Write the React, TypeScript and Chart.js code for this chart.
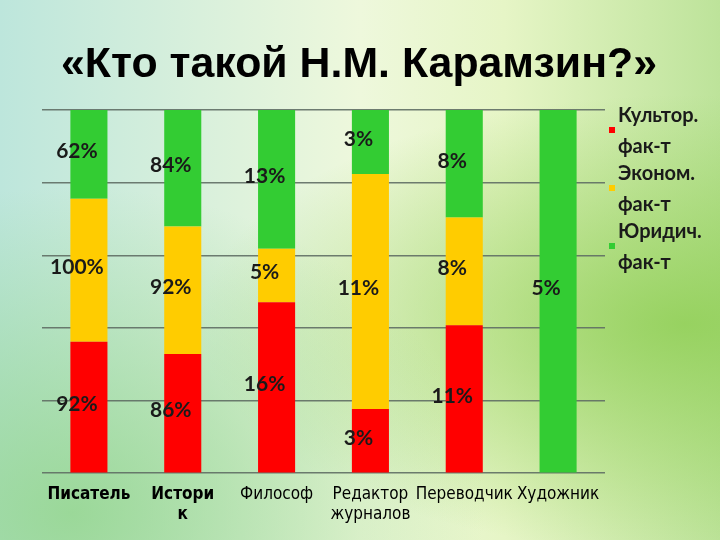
import React, { useEffect, useRef } from "react";
import { Chart, registerables } from "chart.js";

Chart.register(...registerables);

const titleText = "«Кто такой Н.М. Карамзин?»";
const categories = [["Писатель"], ["Истори", "к"], ["Философ"], ["Редактор", "журналов"], ["Переводчик"], ["Художник"]];
const boldCategories = [true, true, false, false, false, false];
const seriesNames = [["Культор.", "фак-т"], ["Эконом.", "фак-т"], ["Юридич.", "фак-т"]];
const cultural = [92, 86, 16, 3, 11, 0];
const economic = [100, 92, 5, 11, 8, 0];
const legal = [62, 84, 13, 3, 8, 5];
const seriesColors = ["#ff0000", "#ffcc00", "#33cc33"];
const yMax = 100;
const yStep = 20;

const seriesValues = [cultural, economic, legal];
const totals = categories.map((_, i) => seriesValues.reduce((s, arr) => s + arr[i], 0));
const toPercent = (arr: number[]) => arr.map((v, i) => (totals[i] ? (v / totals[i]) * 100 : 0));

const titlePlugin = {
  id: "slideTitle",
  afterDraw(chart: any) {
    const ctx = chart.ctx;
    ctx.save();
    ctx.font = "bold 42px 'Liberation Sans', Arial, sans-serif";
    ctx.fillStyle = "#000000";
    ctx.textBaseline = "alphabetic";
    ctx.textAlign = "center";
    const natural = ctx.measureText(titleText).width;
    const target = 596;
    const sx = target / natural;
    ctx.translate(chart.width / 2 - 1, 77);
    ctx.scale(sx, 1);
    ctx.fillText(titleText, 0, 0);
    ctx.restore();
  },
};

const dataLabelPlugin = {
  id: "dataLabels",
  afterDatasetsDraw(chart: any) {
    const ctx = chart.ctx;
    ctx.save();
    ctx.font = "bold 21px Lato, 'Open Sans', sans-serif";
    ctx.fillStyle = "#1a1a1a";
    ctx.textAlign = "center";
    ctx.textBaseline = "middle";
    chart.data.datasets.forEach((ds: any, di: number) => {
      const meta = chart.getDatasetMeta(di);
      meta.data.forEach((el: any, i: number) => {
        const raw = ds.rawValues[i];
        if (!raw) return;
        const y = (el.y + el.base) / 2 - 3;
        ctx.fillText(raw + "%", el.x - 12, y);
      });
    });
    ctx.restore();
  },
};

const legendPlugin = {
  id: "sideLegend",
  afterDraw(chart: any) {
    const ctx = chart.ctx;
    const area = chart.chartArea;
    ctx.save();
    ctx.font = "bold 20px Lato, 'Open Sans', sans-serif";
    ctx.textBaseline = "alphabetic";
    ctx.textAlign = "left";
    chart.data.datasets.forEach((ds: any, di: number) => {
      const baseY = area.top + 12 + di * 58;
      const x = area.right + 4;
      ctx.fillStyle = ds.backgroundColor;
      ctx.fillRect(x, baseY + 5, 6, 6);
      ctx.fillStyle = "#1a1a1a";
      ds.legendLines.forEach((line: string, li: number) => {
        ctx.fillText(line, x + 9, baseY + li * 31);
      });
    });
    ctx.restore();
  },
};

export default function App() {
  const canvasRef = useRef<HTMLCanvasElement | null>(null);

  useEffect(() => {
    if (!canvasRef.current) return;
    const chart = new Chart(canvasRef.current, {
      type: "bar",
      data: {
        labels: categories as any,
        datasets: seriesValues.map((arr, i) => ({
          label: seriesNames[i].join(" "),
          legendLines: seriesNames[i],
          rawValues: arr,
          data: toPercent(arr),
          backgroundColor: seriesColors[i],
          borderWidth: 0,
          categoryPercentage: 1,
          barPercentage: 0.395,
        })) as any,
      },
      options: {
        animation: false,
        responsive: false,
        layout: { padding: { left: 42, right: 115, top: 110, bottom: 4 } },
        plugins: {
          legend: { display: false },
          tooltip: { enabled: false },
          title: { display: false },
        },
        scales: {
          x: {
            stacked: true,
            grid: { display: false, drawTicks: false },
            border: { display: false },
            ticks: {
              color: "#000000",
              padding: 11,
              maxRotation: 0,
              autoSkip: false,
              font: (ctx: any) => ({
                family: "'DejaVu Sans Condensed', 'Liberation Sans Narrow', sans-serif",
                size: 17,
                weight: boldCategories[ctx.index] ? "bold" : "normal",
                lineHeight: 1.2,
              }),
            },
          },
          y: {
            stacked: true,
            min: 0,
            max: yMax,
            ticks: { display: false, stepSize: yStep },
            border: { display: false },
            grid: { color: "rgba(95,110,100,0.9)", lineWidth: 1.5, drawTicks: false },
          },
        },
      },
      plugins: [titlePlugin, dataLabelPlugin, legendPlugin],
    });
    return () => chart.destroy();
  }, []);

  return (
    <div
      style={{
        position: "absolute",
        left: 0,
        top: 0,
        width: 720,
        height: 540,
        overflow: "hidden",
        background:
          "radial-gradient(ellipse at 10% 95%, rgba(140,210,130,0.75) 0%, rgba(140,210,130,0) 45%), radial-gradient(ellipse at 95% 60%, rgba(140,205,80,0.8) 0%, rgba(140,205,80,0) 50%), linear-gradient(90deg, #bde6dc 0%, #d6efdc 25%, #eef8dc 50%, #e6f5c6 70%, #bde39a 100%)",
      }}
    >
      <canvas ref={canvasRef} width={720} height={540} style={{ display: "block" }} />
    </div>
  );
}
